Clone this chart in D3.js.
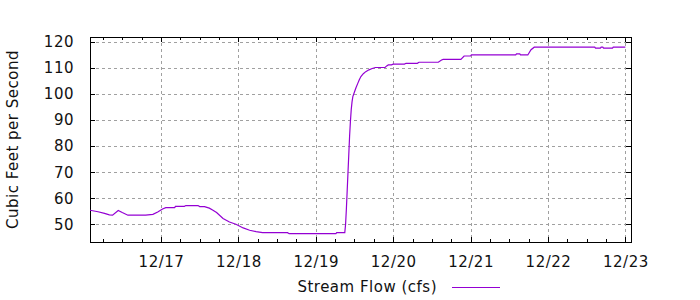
<!DOCTYPE html>
<html>
<head>
<meta charset="utf-8">
<script src="https://cdn.jsdelivr.net/npm/d3@7"></script>
<style>
  html, body { margin: 0; padding: 0; background: #fff; }
  svg { display: block; }
  text { font-family: "DejaVu Sans", sans-serif; fill: #111; letter-spacing: 0.5px; }
</style>
</head>
<body>
<svg id="chart" width="700" height="300"></svg>
<script>
// ---- data ----
const times = [
  "12/16 02:00","12/16 04:30","12/16 06:30","12/16 08:00","12/16 09:00","12/16 10:45","12/16 12:00","12/16 13:45",
  "12/16 19:15","12/16 21:30","12/16 23:00","12/17 00:30","12/17 01:30","12/17 04:15","12/17 04:30","12/17 07:15",
  "12/17 07:45","12/17 11:30","12/17 12:00","12/17 13:30","12/17 15:00","12/17 16:00","12/17 17:15","12/17 19:15",
  "12/17 21:15","12/17 23:15","12/18 01:30","12/18 03:30","12/18 05:30","12/18 07:30","12/18 15:15","12/18 15:45",
  "12/19 06:15","12/19 06:30","12/19 09:00","12/19 09:15","12/19 09:30","12/19 09:45","12/19 10:00","12/19 10:15",
  "12/19 10:30","12/19 10:45","12/19 11:00","12/19 11:15","12/19 11:30","12/19 12:00","12/19 12:30","12/19 13:00",
  "12/19 13:30","12/19 14:00","12/19 14:45","12/19 15:30","12/19 16:30","12/19 17:30","12/19 18:30","12/19 21:30",
  "12/19 22:00","12/19 22:30","12/19 23:30","12/20 00:00","12/20 03:30","12/20 04:00","12/20 07:30","12/20 08:00",
  "12/20 14:00","12/20 15:00","12/20 15:30","12/20 21:00","12/20 22:00","12/21 00:00","12/21 00:15","12/21 14:00",
  "12/21 14:15","12/21 15:15","12/21 15:30","12/21 17:45","12/21 18:45","12/21 19:45","12/22 14:30","12/22 14:45",
  "12/22 16:15","12/22 16:30","12/22 17:00","12/22 17:15","12/22 20:00","12/22 20:15","12/23 00:00"
];
const flow = [
  55.4, 54.8, 54.2, 53.6, 53.5, 55.3, 54.5, 53.5,
  53.5, 53.8, 54.7, 55.9, 56.4, 56.4, 56.9, 56.9,
  57.2, 57.2, 56.8, 56.8, 56.2, 55.5, 54.5, 52.2,
  50.9, 50.0, 48.6, 47.7, 47.2, 46.8, 46.8, 46.4,
  46.4, 46.8, 46.8, 50.0, 56.0, 63.0, 70.0, 77.0,
  84.0, 89.5, 94.0, 97.0, 99.0, 100.8, 102.5, 104.0,
  105.5, 106.7, 107.8, 108.6, 109.3, 109.8, 110.2, 110.2,
  110.8, 111.2, 111.2, 111.5, 111.5, 111.8, 111.8, 112.2,
  112.2, 113.1, 113.3, 113.3, 114.6, 114.6, 115.0, 115.0,
  115.4, 115.4, 115.0, 115.0, 117.0, 118.0, 118.0, 117.6,
  117.6, 118.0, 118.0, 117.6, 117.6, 118.0, 118.0
];
const xDomainLabels = ["12/16 02:00", "12/23 01:45"];
const yDomainValues = [43.2, 121.9];
const yTickValues = [50, 60, 70, 80, 90, 100, 110, 120];
const seriesName = "Stream Flow (cfs)";
const yTitle = "Cubic Feet per Second";

// ---- layout ----
const parse = d3.utcParse("%Y %m/%d %H:%M");
const P = s => parse("2013 " + s);
const data = times.map((t, i) => ({ t: P(t), v: flow[i] }));

const L = 90, R = 631, T = 37, B = 242;
const svg = d3.select("#chart");

const x = d3.scaleUtc().domain(xDomainLabels.map(P)).range([L, R]);
const y = d3.scaleLinear().domain(yDomainValues).range([B, T]);

const dayTicks = x.ticks(d3.utcDay.every(1));
const minorTicks = x.ticks(d3.utcHour.every(6)).filter(d => d.getUTCHours() !== 0);
const fmt = d3.utcFormat("%m/%d");

// grid
const grid = svg.append("g").attr("stroke", "#a0a0a0").attr("stroke-width", 1)
  .attr("stroke-dasharray", "3,3").attr("shape-rendering", "crispEdges");
grid.selectAll("line.gx").data(dayTicks).join("line")
  .attr("x1", d => Math.round(x(d)) + 0.5).attr("x2", d => Math.round(x(d)) + 0.5)
  .attr("y1", T).attr("y2", B);
grid.selectAll("line.gy").data(yTickValues).join("line")
  .attr("y1", d => Math.round(y(d)) + 0.5).attr("y2", d => Math.round(y(d)) + 0.5)
  .attr("x1", L).attr("x2", R);

// axes (inward ticks, mirrored)
const axBottom = d3.axisBottom(x).tickValues(dayTicks).tickFormat(d => fmt(d)).tickSizeInner(-5).tickSizeOuter(0).tickPadding(14);
const axBottomMinor = d3.axisBottom(x).tickValues(minorTicks).tickFormat("").tickSizeInner(-3).tickSizeOuter(0);
const axTop = d3.axisTop(x).tickValues(dayTicks).tickFormat("").tickSizeInner(-5).tickSizeOuter(0);
const axTopMinor = d3.axisTop(x).tickValues(minorTicks).tickFormat("").tickSizeInner(-3).tickSizeOuter(0);
const axLeft = d3.axisLeft(y).tickValues(yTickValues).tickSizeInner(-5).tickSizeOuter(0).tickPadding(16);
const axRight = d3.axisRight(y).tickValues(yTickValues).tickFormat("").tickSizeInner(-5).tickSizeOuter(0);

function styleAxis(g) {
  g.select(".domain").remove();
  g.selectAll("line").attr("stroke", "#000").attr("shape-rendering", "crispEdges");
  g.selectAll("text").attr("font-family", "DejaVu Sans").attr("font-size", 15).attr("fill", "#111");
}
svg.append("g").attr("transform", `translate(0,${B})`).call(axBottom).call(styleAxis);
svg.append("g").attr("transform", `translate(0,${B})`).call(axBottomMinor).call(styleAxis);
svg.append("g").attr("transform", `translate(0,${T})`).call(axTop).call(styleAxis);
svg.append("g").attr("transform", `translate(0,${T})`).call(axTopMinor).call(styleAxis);
svg.append("g").attr("transform", `translate(${L},0)`).call(axLeft).call(styleAxis);
svg.append("g").attr("transform", `translate(${R},0)`).call(axRight).call(styleAxis);

// border
svg.append("rect").attr("x", L + 0.5).attr("y", T + 0.5).attr("width", R - L).attr("height", B - T)
  .attr("fill", "none").attr("stroke", "#000").attr("stroke-width", 1).attr("shape-rendering", "crispEdges");

// series line
const line = d3.line().x(d => x(d.t)).y(d => y(d.v));
svg.append("path").datum(data).attr("d", line)
  .attr("fill", "none").attr("stroke", "#9400d3").attr("stroke-width", 1.2);

// y title
svg.append("text").attr("transform", `translate(18,${(T + B) / 2}) rotate(-90)`)
  .attr("text-anchor", "middle").attr("font-size", 15).text(yTitle);

// legend
svg.append("text").attr("x", 437).attr("y", 292).attr("text-anchor", "end")
  .attr("font-size", 15).text(seriesName);
svg.append("line").attr("x1", 452).attr("x2", 500).attr("y1", 287.5).attr("y2", 287.5)
  .attr("stroke", "#9400d3").attr("stroke-width", 1).attr("shape-rendering", "crispEdges");
</script>
</body>
</html>
